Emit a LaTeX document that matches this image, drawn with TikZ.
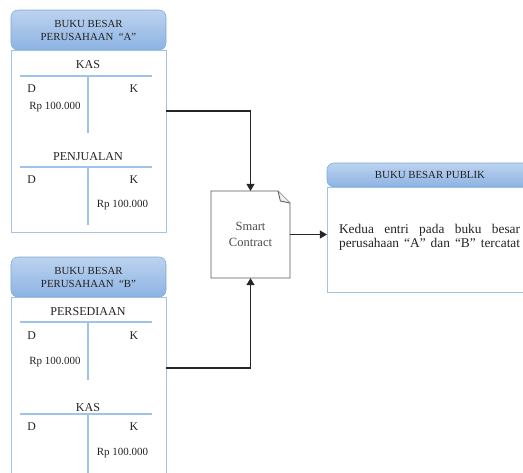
\documentclass[tikz,border=0pt]{standalone}
\usepackage{fontspec}
\setmainfont{Liberation Serif}
\usetikzlibrary{arrows.meta, positioning}
\definecolor{hdrtop}{RGB}{188,211,239}
\definecolor{hdrbottom}{RGB}{141,179,227}
\definecolor{hdrline}{RGB}{128,168,218}
\definecolor{ledgerline}{RGB}{160,196,232}
\definecolor{inkgray}{RGB}{35,35,35}

\begin{document}
\begin{tikzpicture}[
        header/.style={rectangle, draw=hdrline, top color=hdrtop, bottom color=hdrbottom, rounded corners=5pt, minimum width=3.875cm, minimum height=1cm, align=center, text=inkgray, font=\fontsize{7.7}{9.2}\selectfont, inner sep=0pt, outer sep=0pt},
        ledger/.style={rectangle, draw=ledgerline, line width=0.7pt, minimum width=3.875cm, minimum height=4.55cm, outer sep=0pt},
        tline/.style={ledgerline, line width=0.8pt},
        acct/.style={font=\fontsize{8.6}{10}\selectfont, text=inkgray, inner sep=1pt},
        side/.style={font=\fontsize{8.4}{10}\selectfont, text=inkgray, inner sep=1pt},
        amount/.style={font=\fontsize{7.8}{9}\selectfont, text=inkgray, inner sep=1pt},
        docbox/.style={rectangle, minimum width=1.975cm, minimum height=2.175cm, align=center, text=black!70, font=\fontsize{8.9}{11.4}\selectfont, outer sep=0pt},
        docline/.style={draw=black!65, line width=0.6pt},
        note/.style={text width=4.525cm, inner sep=0pt, text=inkgray, font=\fontsize{9.5}{10}\selectfont},
        arrow/.style={-{Triangle[length=5pt,width=5.5pt]}, line width=1.1pt, black!85}
    ]
        \useasboundingbox (0,0) rectangle (13.075,-11.8);
        \clip (0,0) rectangle (13.075,-11.8);

        % Perusahaan A
        \node[header] (hdrA) at (2.2125,-0.75) {BUKU BESAR\\PERUSAHAAN \ “A”};
        \node[ledger, below=0pt of hdrA] (bodyA) {};

        \node[acct] (kasA) at (2.2,-1.625) {KAS};
        \draw[tline] (0.5,-1.9) -- (3.8,-1.9);
        \draw[tline] (2.2,-1.9) -- (2.2,-3.325);
        \node[side] (debKasA) at (0.79,-2.225) {D};
        \node[side] (kreKasA) at (3.35,-2.225) {K};
        \node[amount] (amtKasA) at (1.375,-2.675) {Rp 100.000};

        \node[acct] (jualA) at (2.2,-3.925) {PENJUALAN};
        \draw[tline] (0.5,-4.175) -- (3.8,-4.175);
        \draw[tline] (2.2,-4.175) -- (2.2,-5.625);
        \node[side] (debJualA) at (0.79,-4.5) {D};
        \node[side] (kreJualA) at (3.35,-4.5) {K};
        \node[amount] (amtJualA) at (3.06,-5.125) {Rp 100.000};

        % Perusahaan B
        \node[header] (hdrB) at (2.2125,-6.925) {BUKU BESAR\\PERUSAHAAN \ “B”};
        \node[ledger, below=0pt of hdrB] (bodyB) {};

        \node[acct] (sediaB) at (2.2,-7.8) {PERSEDIAAN};
        \draw[tline] (0.5,-8.05) -- (3.8,-8.05);
        \draw[tline] (2.2,-8.05) -- (2.2,-9.5);
        \node[side] (debSediaB) at (0.79,-8.4) {D};
        \node[side] (kreSediaB) at (3.35,-8.4) {K};
        \node[amount] (amtSediaB) at (1.375,-9.05) {Rp 100.000};

        \node[acct] (kasB) at (2.2,-10.2) {KAS};
        \draw[tline] (0.5,-10.35) -- (3.8,-10.35);
        \draw[tline] (2.2,-10.35) -- (2.2,-11.9);
        \node[side] (debKasB) at (0.79,-10.675) {D};
        \node[side] (kreKasB) at (3.35,-10.675) {K};
        \node[amount] (amtKasB) at (3.06,-11.325) {Rp 100.000};

        % Smart contract
        \node[docbox] (doc) at (6.2625,-5.8625) {};
        \draw[docline, fill=white] (doc.south west) -- (doc.north west) -- ([xshift=-0.3cm]doc.north east) -- ([yshift=-0.3cm]doc.north east) -- (doc.south east) -- cycle;
        \draw[docline, fill=gray!12] ([xshift=-0.3cm]doc.north east) -- ([xshift=-0.24cm,yshift=-0.25cm]doc.north east) -- ([yshift=-0.3cm]doc.north east);
        \node[docbox] (docText) at (doc) {Smart\\Contract};

        % Buku besar publik
        \node[header, minimum width=5.15cm, minimum height=0.6cm] (hdrPub) at (10.75,-4.375) {BUKU BESAR PUBLIK};
        \node[ledger, minimum width=5.15cm, minimum height=2.625cm, below=0pt of hdrPub] (bodyPub) {};
        \node[note] (notePub) at (10.74,-5.925) {\makebox[4.525cm]{Kedua\hfill entri\hfill pada\hfill buku\hfill besar}\\\makebox[4.525cm]{perusahaan\hfill “A”\hfill dan\hfill “B”\hfill tercatat}};

        % Arrows
        \coordinate (outA) at (4.15,-2.775);
        \coordinate (outB) at (4.15,-9.2);
        \draw[arrow] (outA) -| (doc);
        \draw[arrow] (outB) -| (doc);
        \draw[arrow] (doc) -- (doc -| bodyPub.west);

    \end{tikzpicture}
\end{document}
